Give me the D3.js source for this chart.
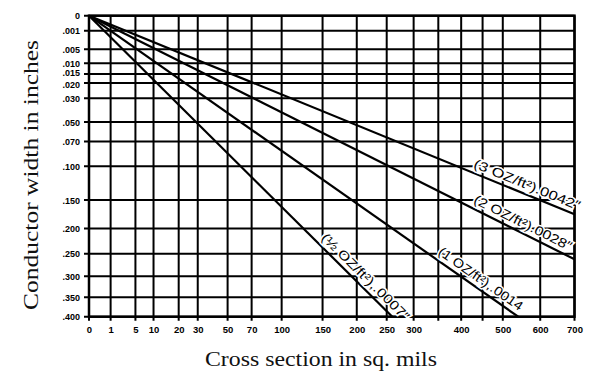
<!DOCTYPE html>
<html><head><meta charset="utf-8">
<script src="https://cdn.jsdelivr.net/npm/d3@7"></script>
<style>
html,body{margin:0;padding:0;background:#fff;}
svg{display:block;}
</style></head>
<body>
<svg id="chart" width="600" height="379"></svg>
<script>
// ---- data ----
const xTickValues = [0, 1, 5, 10, 20, 30, 50, 70, 100, 150, 200, 250, 300, 400, 500, 600, 700];
const xGridValues = [0, 1, 5, 10, 20, 30, 50, 70, 100, 150, 200, 250, 300, 350, 400, 450, 500, 600, 700];
const yTickValues = [0, 0.001, 0.005, 0.010, 0.015, 0.020, 0.030, 0.050, 0.070, 0.100, 0.150, 0.200, 0.250, 0.300, 0.350, 0.400];
const yTickLabels = ["0", ".001", ".005", ".010", ".015", ".020", ".030", ".050", ".070", ".100", ".150", ".200", ".250", ".300", ".350", ".400"];

const seriesNames = ["(3 OZ/ft²).0042″", "(2 OZ/ft²).0028″", "(1 OZ/ft²),.0014", "(½ OZ/ft²),.0007″"];
const series3oz = [[0, 0], [700, 0.174]];
const series2oz = [[0, 0], [700, 0.262]];
const series1oz = [[0, 0], [540, 0.400]];
const seriesHalfOz = [[0, 0], [260, 0.400]];
const allSeries = [series3oz, series2oz, series1oz, seriesHalfOz];

const xTitle = "Cross section in sq. mils";
const yTitle = "Conductor width in inches";

// ---- layout ----
const svg = d3.select("#chart");
const x = d3.scalePow().exponent(0.475).domain([0, 700]).range([89, 574.5]);
const y = d3.scaleSqrt().domain([0, 0.4]).range([15.7, 316.7]);

const g = svg.append("g");

// horizontal grid (extends left as tick)
g.selectAll("line.hgrid").data(yTickValues).enter().append("line")
  .attr("x1", x(0) - 5).attr("x2", x(700))
  .attr("y1", d => y(d)).attr("y2", d => y(d))
  .attr("stroke", "#000").attr("stroke-width", 2);

// vertical grid (extends below as tick)
g.selectAll("line.vgrid").data(xGridValues).enter().append("line")
  .attr("x1", d => x(d)).attr("x2", d => x(d))
  .attr("y1", y(0)).attr("y2", y(0.4) + 4)
  .attr("stroke", "#000").attr("stroke-width", 2);

// frame
g.append("rect").attr("x", x(0)).attr("y", y(0))
  .attr("width", x(700) - x(0)).attr("height", y(0.4) - y(0))
  .attr("fill", "none").attr("stroke", "#000").attr("stroke-width", 2.5);

// axes for labels
const yAxis = d3.axisLeft(y).tickValues(yTickValues).tickSize(0).tickPadding(0)
  .tickFormat((d, i) => yTickLabels[i]);
const ya = svg.append("g").attr("transform", `translate(${x(0) - 9},0)`).call(yAxis);
ya.select(".domain").remove();
ya.selectAll("text").attr("font-family", "Liberation Sans, Arial, sans-serif")
  .attr("font-weight", "bold").attr("font-size", 9).attr("fill", "#000")
  .attr("dy", (d, i) => yTickLabels[i] === ".015" ? "0.15em" : (yTickLabels[i] === ".020" ? "0.5em" : "0.34em"));

const xAxis = d3.axisBottom(x).tickValues(xTickValues).tickSize(0).tickPadding(0);
const xa = svg.append("g").attr("transform", `translate(0,${y(0.4) + 8})`).call(xAxis);
xa.select(".domain").remove();
xa.selectAll("text").attr("font-family", "Liberation Sans, Arial, sans-serif")
  .attr("font-weight", "bold").attr("font-size", 9.5).attr("fill", "#000").attr("dy", "0.9em");

// lines
const line = d3.line().x(d => x(d[0])).y(d => y(d[1]));
svg.selectAll("path.series").data(allSeries).enter().append("path")
  .attr("d", line).attr("fill", "none").attr("stroke", "#000").attr("stroke-width", 2.2);

// labels along lines
const labelT = [0.895, 0.885, 0.9, 0.89];
const labelLen = [114, 108, 100, 118];
allSeries.forEach((s, i) => {
  const p0 = [x(s[0][0]), y(s[0][1])], p1 = [x(s[1][0]), y(s[1][1])];
  const t = labelT[i];
  const px = p0[0] + (p1[0] - p0[0]) * t, py = p0[1] + (p1[1] - p0[1]) * t;
  const ang = Math.atan2(p1[1] - p0[1], p1[0] - p0[0]) * 180 / Math.PI;
  svg.append("text")
    .attr("transform", `translate(${px},${py}) rotate(${ang})`)
    .attr("text-anchor", "middle").attr("dy", -5)
    .attr("font-family", "Liberation Sans, Arial, sans-serif")
    .attr("font-size", 13).attr("fill", "#000")
    .attr("stroke", "#fff").attr("stroke-width", 3).attr("paint-order", "stroke")
    .attr("textLength", labelLen[i]).attr("lengthAdjust", "spacingAndGlyphs")
    .text(seriesNames[i]);
});

// titles
svg.append("text").attr("x", 321).attr("y", 366).attr("text-anchor", "middle")
  .attr("font-family", "Liberation Serif, Times New Roman, serif").attr("font-size", 22)
  .attr("fill", "#111").attr("textLength", 232).attr("lengthAdjust", "spacingAndGlyphs")
  .text(xTitle);
svg.append("text").attr("transform", "translate(38,175) rotate(-90)").attr("text-anchor", "middle")
  .attr("font-family", "Liberation Serif, Times New Roman, serif").attr("font-size", 22)
  .attr("fill", "#111").attr("textLength", 270).attr("lengthAdjust", "spacingAndGlyphs")
  .text(yTitle);
</script>
</body></html>
